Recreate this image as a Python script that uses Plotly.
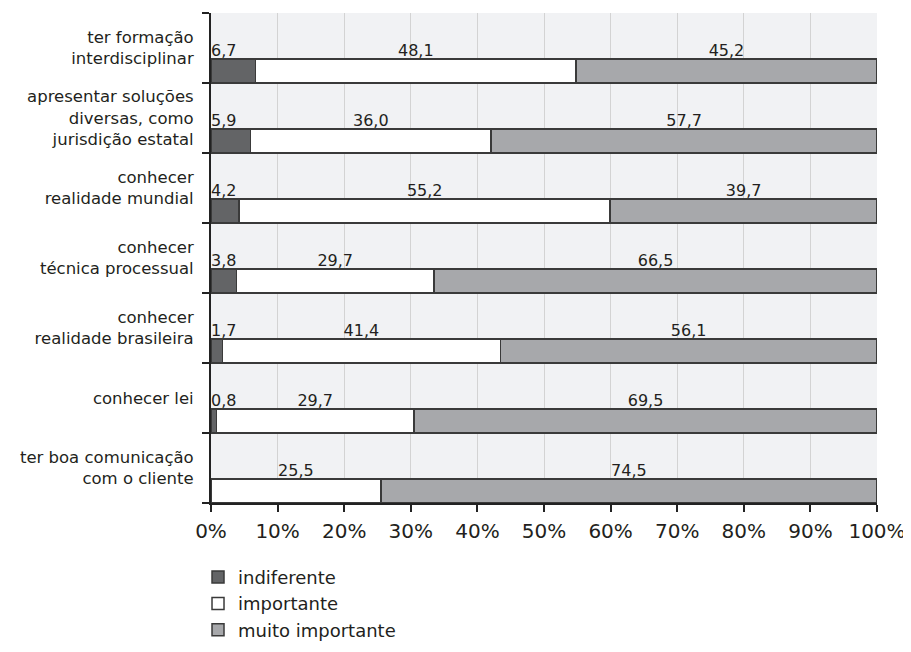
import plotly.graph_objects as go

categories = [
    "ter formação<br>interdisciplinar",
    "apresentar soluções<br>diversas, como<br>jurisdição estatal",
    "conhecer<br>realidade mundial",
    "conhecer<br>técnica processual",
    "conhecer<br>realidade brasileira",
    "conhecer lei",
    "ter boa comunicação<br>com o cliente",
]
indiferente = [6.7, 5.9, 4.2, 3.8, 1.7, 0.8, 0.0]
importante = [48.1, 36.0, 55.2, 29.7, 41.4, 29.7, 25.5]
muito_importante = [45.2, 57.7, 39.7, 66.5, 56.1, 69.5, 74.5]
x_ticks = [0, 10, 20, 30, 40, 50, 60, 70, 80, 90, 100]

series = [
    ("indiferente", indiferente, "#636466"),
    ("importante", importante, "#ffffff"),
    ("muito importante", muito_importante, "#a7a8ab"),
]

n = len(categories)
ypos = [n - 1 - i for i in range(n)]
FONT = "DejaVu Sans"
TXT = "#231f20"

fig = go.Figure()
for name, vals, col in series:
    fig.add_trace(go.Bar(
        y=ypos, x=vals, name=name, orientation="h",
        width=0.34, offset=-0.5,
        marker=dict(color=col, line=dict(color="#3a3a3a", width=1.5)),
    ))

def fmt(v):
    return f"{v:.1f}".replace(".", ",")

totals = [sum(s[1][i] for s in series) for i in range(n)]

# value labels above the bars (positions follow the normalised stack)
cum = [0.0] * n
for si, (name, vals, col) in enumerate(series):
    xs, ys, ts = [], [], []
    for i, v in enumerate(vals):
        share = 100.0 * v / totals[i]
        if v > 0:
            xs.append(0.0 if si == 0 else cum[i] + share / 2)
            ys.append(ypos[i] - 0.06)
            ts.append(fmt(v))
        cum[i] += share
    fig.add_trace(go.Scatter(
        x=xs, y=ys, text=ts, mode="text",
        textposition="middle right" if si == 0 else "middle center",
        textfont=dict(family=FONT, size=16, color=TXT),
        showlegend=False, hoverinfo="skip", cliponaxis=False,
    ))

fig.update_layout(
    barmode="stack",
    barnorm="percent",
    width=903, height=644,
    margin=dict(l=203, r=34, t=5, b=149, autoexpand=False),
    paper_bgcolor="white",
    plot_bgcolor="#f1f2f4",
    font=dict(family=FONT, color=TXT),
    legend=dict(
        x=-0.0195, y=-0.114, xanchor="left", yanchor="top",
        traceorder="normal", font=dict(family=FONT, size=18, color=TXT),
        bgcolor="rgba(0,0,0,0)", tracegroupgap=0,
    ),
    xaxis=dict(
        range=[0, 100], tickmode="array", tickvals=x_ticks,
        ticktext=[f"{t}%" for t in x_ticks],
        showgrid=True, gridcolor="#d3d3d3", gridwidth=1,
        showline=True, linecolor="#222222", linewidth=2,
        ticks="outside", ticklen=7, tickwidth=2, tickcolor="#222222",
        tickfont=dict(family=FONT, size=20, color=TXT),
        ticklabelstandoff=2, ticklabeloverflow="allow",
        zeroline=False, fixedrange=True, automargin=False,
    ),
    yaxis=dict(
        range=[-0.5, n - 0.5],
        tickmode="array", tickvals=ypos, ticktext=categories,
        ticks="", showgrid=False, zeroline=False,
        showline=True, linecolor="#222222", linewidth=2,
        tickfont=dict(family=FONT, size=16.5, color=TXT),
        ticklabelstandoff=12, automargin=False,
        minor=dict(tickmode="linear", tick0=-0.5, dtick=1, ticks="outside",
                   ticklen=7, tickwidth=2, tickcolor="#222222", showgrid=False),
    ),
)

fig.write_html("out.html")
